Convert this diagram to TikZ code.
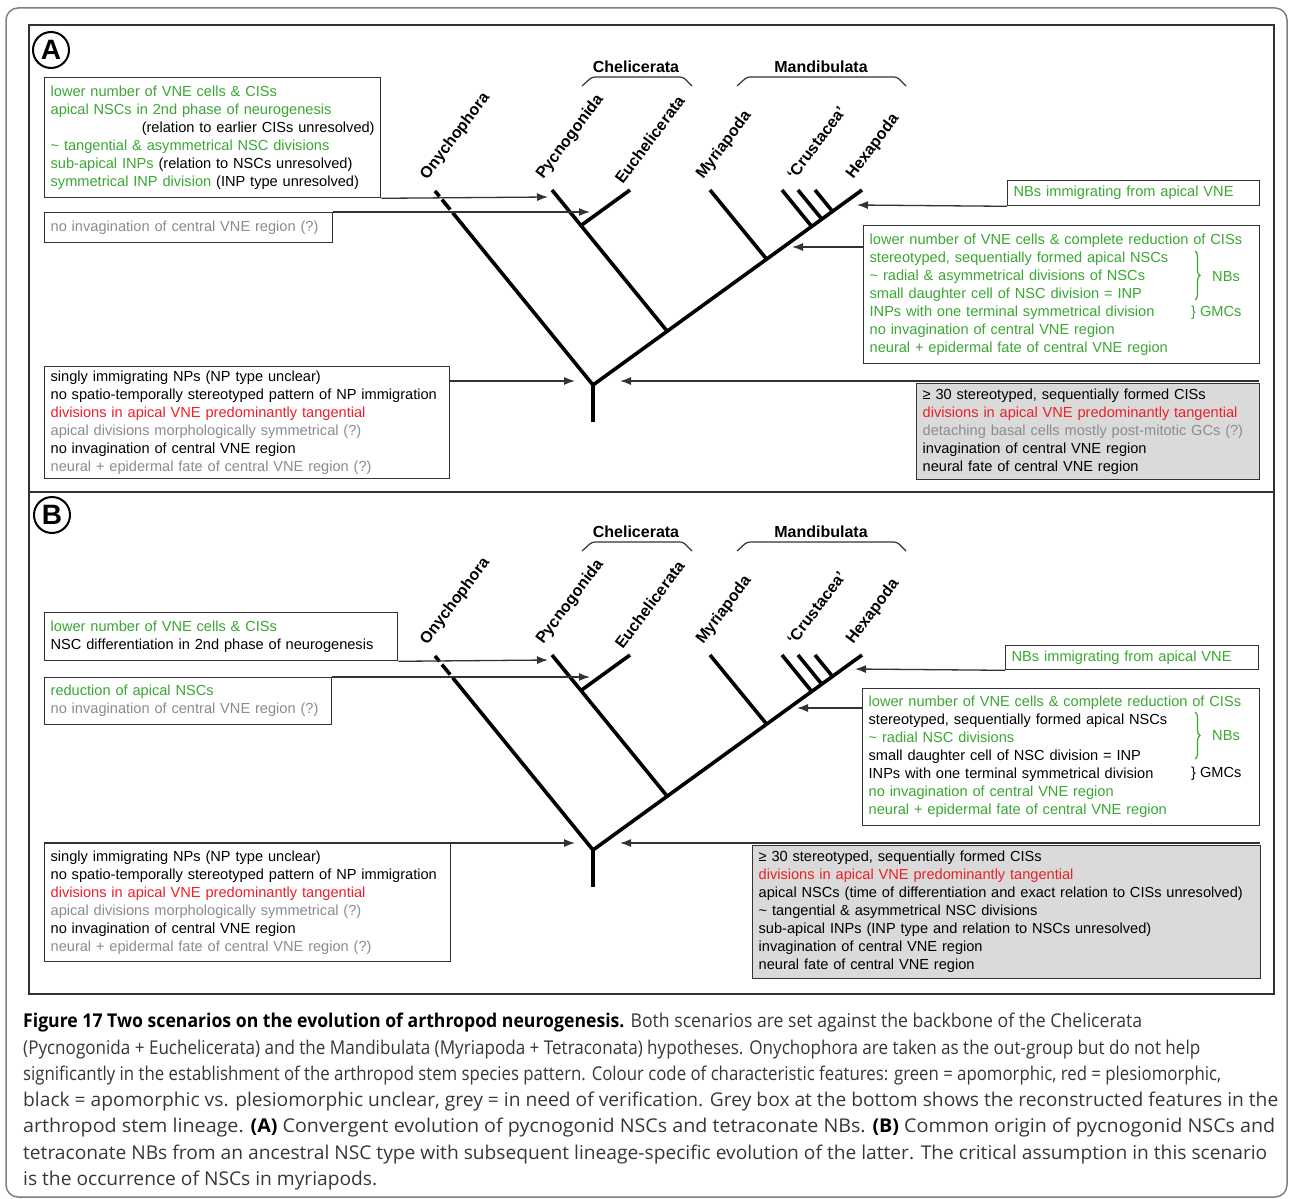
\documentclass[tikz,border=0pt]{standalone}
\usepackage{graphicx}
\usepackage{fontspec}
\setmainfont{Liberation Sans}
\newfontfamily\capfont{Open Sans}
\usetikzlibrary{arrows.meta,calc,decorations.pathreplacing}
\definecolor{vgreen}{RGB}{58,168,50}
\definecolor{vred}{RGB}{232,34,40}
\definecolor{vgrey}{RGB}{140,140,140}
\definecolor{boxfill}{RGB}{218,218,218}
\definecolor{edge}{RGB}{50,50,50}
\definecolor{captext}{RGB}{55,55,55}
\newcommand{\tgreen}[1]{\textcolor{vgreen}{#1}}
\newcommand{\tred}[1]{\textcolor{vred}{#1}}
\newcommand{\tgrey}[1]{\textcolor{vgrey}{#1}}
\newcommand{\capline}[2]{\resizebox{#1pt}{\height}{#2}}
\tikzset{
  box/.style={draw=edge, line width=1.3pt, fill=white, anchor=north west,
    inner xsep=6pt, inner ysep=0pt, align=left, text=black,
    font=\fontsize{14.6}{18}\selectfont,
    execute at begin node={\hyphenpenalty=10000\exhyphenpenalty=10000}},
  conn/.style={draw=edge, line width=1.3pt, -{Latex[length=11pt,width=8pt]}},
  branch/.style={line width=3.6pt, black},
  taxon/.style={font=\bfseries\fontsize{16}{18}\selectfont, rotate=53,
    anchor=south west, inner sep=0pt},
  clade/.style={font=\bfseries\fontsize{16}{18}\selectfont, inner sep=0pt},
  bracketline/.style={draw=edge, line width=1.2pt, rounded corners=3pt},
  panel/.style={draw=edge, line width=1.8pt},
  letter/.style={circle, draw=black, line width=2pt, minimum size=36pt, inner sep=0pt,
    font=\bfseries\fontsize{28}{28}\selectfont},
  nbbrace/.style={line width=1.2pt, decorate, decoration={brace, amplitude=5pt}},
  smalltxt/.style={font=\fontsize{14.6}{18}\selectfont, inner sep=0pt}
}
\newcommand{\drawtree}[2]{%
\begin{scope}[shift={(0,#2)}]
  \coordinate (#1R) at (593,385);
  \coordinate (#1S) at (593,422);
  \coordinate (#1O) at (435,191);
  \coordinate (#1H) at (862,190);
  \coordinate (#1P) at (552,190);
  \coordinate (#1E) at (630,190);
  \coordinate (#1M) at (710,190);
  \coordinate (#1Ca) at (782,190);
  \coordinate (#1Cb) at (798,190);
  \coordinate (#1Cc) at (815,190);
  \coordinate (#1Pj) at (667,331);
  \coordinate (#1Ej) at (581,225.5);
  \coordinate (#1Mj) at (766.5,259);
  \coordinate (#1Caj) at (811.7,226.5);
  \coordinate (#1Cbj) at (821.7,219);
  \coordinate (#1Ccj) at (832.5,211.4);
  \draw[branch, line join=miter, dash pattern=on 7pt off 4pt on 13pt off 4pt on 1000pt] (#1O) -- (#1R) -- (#1H);
  \draw[branch] (#1R) -- (#1S);
  \draw[branch] (#1P) -- (#1Pj);
  \draw[branch] (#1E) -- (#1Ej);
  \draw[branch] (#1M) -- (#1Mj);
  \draw[branch] (#1Ca) -- (#1Caj);
  \draw[branch] (#1Cb) -- (#1Cbj);
  \draw[branch] (#1Cc) -- (#1Ccj);
  \node[taxon] (#1tO) at ($(#1O)+(-5,-8)$) {Onychophora};
  \node[taxon] (#1tP) at ($(#1P)+(-6,-8)$) {Pycnogonida};
  \node[taxon] (#1tE) at ($(#1E)+(-7,-5)$) {Euchelicerata};
  \node[taxon] (#1tM) at ($(#1M)+(-4,-8)$) {Myriapoda};
  \node[taxon] (#1tC) at ($(#1Cb)+(-3,-9)$) {\textquoteleft Crustacea\textquoteright};
  \node[taxon] (#1tH) at ($(#1H)+(-6,-8)$) {Hexapoda};
  \node[clade] (#1chel) at (636,67) {Chelicerata};
  \node[clade] (#1mand) at (821,67) {Mandibulata};
  \draw[bracketline] (582,86) -- (592,77) -- (683,77) -- (692,86);
  \draw[bracketline] (737,86) -- (747,77) -- (897,77) -- (906,86);
\end{scope}}
\begin{document}
\begin{tikzpicture}[x=1pt,y=-1pt]
\useasboundingbox (0,0) rectangle (1290,1199);
\draw[draw=gray, line width=1.5pt, rounded corners=12pt] (6,8) rectangle (1287,1197);
\draw[panel] (29,25) rectangle (1274,492);
\draw[panel] (29,492) rectangle (1274,994);
\node[letter] (labA) at (51,50) {A};
\node[letter] (labB) at (52,515) {B};

% ---------------- Panel A ----------------
\drawtree{a}{0}
\node[box, minimum width=336pt, minimum height=120pt, text width=324pt] (a1) at (44,77) {%
\tgreen{lower number of VNE cells \& CISs}\\
\tgreen{apical NSCs in 2nd phase of neurogenesis}\\
\hspace*{\fill}(relation to earlier CISs unresolved)\\
\tgreen{\textasciitilde\ tangential \& asymmetrical NSC divisions}\\
\tgreen{sub-apical INPs} (relation to NSCs unresolved)\\
\tgreen{symmetrical INP division} (INP type unresolved)};
\node[box, minimum width=288pt, minimum height=30pt, text width=276pt] (a2) at (44,212) {%
\tgrey{no invagination of central VNE region (?)}};
\node[box, minimum width=252pt, minimum height=25pt, text width=240pt] (a3) at (1007,180) {%
\tgreen{NBs immigrating from apical VNE}};
\node[box, minimum width=396pt, minimum height=138pt, text width=384pt] (a4) at (863,225) {%
\tgreen{lower number of VNE cells \& complete reduction of CISs}\\
\tgreen{stereotyped, sequentially formed apical NSCs}\\
\tgreen{\textasciitilde\ radial \& asymmetrical divisions of NSCs}\\
\tgreen{small daughter cell of NSC division = INP}\\
\tgreen{INPs with one terminal symmetrical division}\\
\tgreen{no invagination of central VNE region}\\
\tgreen{neural + epidermal fate of central VNE region}};
\draw[nbbrace, vgreen] (1195,251) -- (1195,300);
\node[smalltxt, text=vgreen] (aNB) at (1226,277) {NBs};
\node[smalltxt, text=vgreen, anchor=west] (aGM) at (1191,313) {\} GMCs};
\node[box, minimum width=405pt, minimum height=112pt, text width=393pt] (a5) at (44,366) {%
singly immigrating NPs (NP type unclear)\\
no spatio-temporally stereotyped pattern of NP immigration\\
\tred{divisions in apical VNE predominantly tangential}\\
\tgrey{apical divisions morphologically symmetrical (?)}\\
no invagination of central VNE region\\
\tgrey{neural + epidermal fate of central VNE region (?)}};
\node[box, fill=boxfill, minimum width=343pt, minimum height=96pt, text width=331pt] (a6) at (916,383) {%
≥ 30 stereotyped, sequentially formed CISs\\
\tred{divisions in apical VNE predominantly tangential}\\
\tgrey{detaching basal cells mostly post-mitotic GCs (?)}\\
invagination of central VNE region\\
neural fate of central VNE region};
\coordinate (aT1) at (548,197);
\coordinate (aT2) at (590,212);
\coordinate (aT3) at (857,205);
\coordinate (aS4) at (863,247);
\coordinate (aT4) at (792,247);
\coordinate (aS5) at (449,381);
\coordinate (aT5) at (575,381);
\coordinate (aS6) at (1259,381);
\coordinate (aT6) at (620,381);
\draw[conn] (a1.south east) -- (aT1);
\draw[conn] (a2.north east) -- (aT2);
\draw[conn] (a3.south west) -- (aT3);
\draw[conn] (aS4) -- (aT4);
\draw[conn] (aS5) -- (aT5);
\draw[conn] (aS6) -- (aT6);

% ---------------- Panel B ----------------
\drawtree{b}{465}
\node[box, minimum width=353pt, minimum height=48pt, text width=341pt] (b1) at (44,612) {%
\tgreen{lower number of VNE cells \& CISs}\\
NSC differentiation in 2nd phase of neurogenesis};
\node[box, minimum width=287pt, minimum height=47pt, text width=275pt] (b2) at (44,677) {%
\tgreen{reduction of apical NSCs}\\
\tgrey{no invagination of central VNE region (?)}};
\node[box, minimum width=253pt, minimum height=24pt, text width=241pt] (b3) at (1005,645) {%
\tgreen{NBs immigrating from apical VNE}};
\node[box, minimum width=397pt, minimum height=137pt, text width=385pt] (b4) at (862,688) {%
\tgreen{lower number of VNE cells \& complete reduction of CISs}\\
stereotyped, sequentially formed apical NSCs\\
\tgreen{\textasciitilde\ radial NSC divisions}\\
small daughter cell of NSC division = INP\\
INPs with one terminal symmetrical division\\
\tgreen{no invagination of central VNE region}\\
\tgreen{neural + epidermal fate of central VNE region}};
\draw[nbbrace, vgreen] (1195,712) -- (1195,759);
\node[smalltxt, text=vgreen] (bNB) at (1226,736) {NBs};
\node[smalltxt, anchor=west] (bGM) at (1191,774) {\} GMCs};
\node[box, minimum width=406pt, minimum height=118pt, text width=394pt] (b5) at (44,843) {%
singly immigrating NPs (NP type unclear)\\
no spatio-temporally stereotyped pattern of NP immigration\\
\tred{divisions in apical VNE predominantly tangential}\\
\tgrey{apical divisions morphologically symmetrical (?)}\\
no invagination of central VNE region\\
\tgrey{neural + epidermal fate of central VNE region (?)}};
\node[box, fill=boxfill, minimum width=508pt, minimum height=133pt, text width=496pt] (b6) at (752,845) {%
≥ 30 stereotyped, sequentially formed CISs\\
\tred{divisions in apical VNE predominantly tangential}\\
apical NSCs (time of differentiation and exact relation to CISs unresolved)\\
\textasciitilde\ tangential \& asymmetrical NSC divisions\\
sub-apical INPs (INP type and relation to NSCs unresolved)\\
invagination of central VNE region\\
neural fate of central VNE region};
\coordinate (bT1) at (548,660);
\coordinate (bT2) at (590,677);
\coordinate (bT3) at (855,669);
\coordinate (bS4) at (862,708);
\coordinate (bT4) at (797,708);
\coordinate (bT5) at (575,843);
\coordinate (bS6) at (1260,843);
\coordinate (bT6) at (620,843);
\draw[conn] (b1.south east) -- (bT1);
\draw[conn] (b2.north east) -- (bT2);
\draw[conn] (b3.south west) -- (bT3);
\draw[conn] (bS4) -- (bT4);
\draw[conn] (b5.north west) -- (bT5);
\draw[conn] (bS6) -- (bT6);

% ---------------- Caption ----------------
\node[anchor=north west, inner sep=0pt, align=left, text=captext,
  font=\capfont\fontsize{19}{26.3}\selectfont] (cap) at (23,1013) {%
\capline{1119}{\textcolor{black}{\textbf{Figure 17 Two scenarios on the evolution of arthropod neurogenesis.}} Both scenarios are set against the backbone of the Chelicerata}\\
\capline{1177}{(Pycnogonida + Euchelicerata) and the Mandibulata (Myriapoda + Tetraconata) hypotheses. Onychophora are taken as the out-group but do not help}\\
\capline{1198}{significantly in the establishment of the arthropod stem species pattern. Colour code of characteristic features: green = apomorphic, red = plesiomorphic,}\\
\capline{1255}{black = apomorphic vs. plesiomorphic unclear, grey = in need of verification. Grey box at the bottom shows the reconstructed features in the}\\
\capline{1252}{arthropod stem lineage. \textcolor{black}{\textbf{(A)}} Convergent evolution of pycnogonid NSCs and tetraconate NBs. \textcolor{black}{\textbf{(B)}} Common origin of pycnogonid NSCs and}\\
\capline{1244}{tetraconate NBs from an ancestral NSC type with subsequent lineage-specific evolution of the latter. The critical assumption in this scenario}\\
\capline{354}{is the occurrence of NSCs in myriapods.}};
\end{tikzpicture}
\end{document}
